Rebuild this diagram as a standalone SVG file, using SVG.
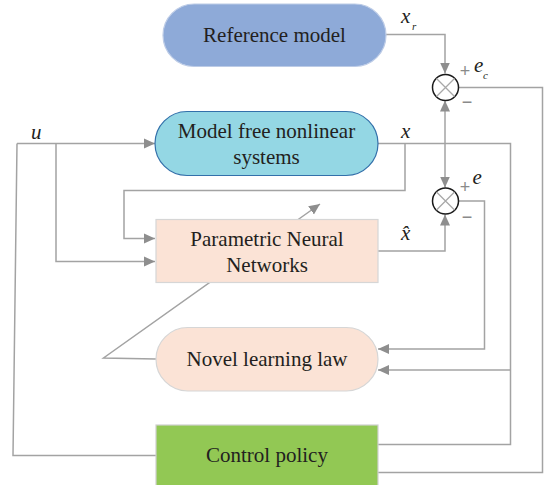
<svg xmlns="http://www.w3.org/2000/svg" width="544" height="485" viewBox="0 0 544 485">
<defs>
<marker id="ah" markerUnits="userSpaceOnUse" markerWidth="12" markerHeight="12" viewBox="0 0 12 12" refX="11" refY="6" orient="auto">
<path d="M0,1 L11,6 L0,11 Z" fill="#8e8e8e"/>
</marker>
<marker id="ahs" markerUnits="userSpaceOnUse" markerWidth="12" markerHeight="12" viewBox="0 0 12 12" refX="11" refY="6" orient="auto-start-reverse">
<path d="M0,1 L11,6 L0,11 Z" fill="#8e8e8e"/>
</marker>
</defs>
<style>
.ln{fill:none;stroke:#a3a3a3;stroke-width:1.5}
.t{font-family:"Liberation Serif","Times New Roman",serif;font-size:21px;fill:#231f20;text-anchor:middle}
.lb{font-family:"Liberation Serif","Times New Roman",serif;font-style:italic;font-size:21px;fill:#231f20}
.sub{font-family:"Liberation Serif","Times New Roman",serif;font-style:italic;font-size:11px;fill:#231f20}
.pm{font-family:"Liberation Sans",Arial,sans-serif;font-size:18px;fill:#8a8a8a;text-anchor:middle}
.sum{fill:#fff;stroke:#1a1a1a;stroke-width:1.5}
.cx{stroke:#a8a8a8;stroke-width:1.3}
</style>
<rect width="544" height="485" fill="#fff"/>
<g id="connectors">
<path class="ln" d="M17,143.5 H155" marker-end="url(#ah)"/>
<path class="ln" d="M56,143.5 V261.5 H155" marker-end="url(#ah)"/>
<path class="ln" d="M156,455.5 H13 L17,143.5"/>
<path class="ln" d="M378,143.5 H510.5 V444.5 H378"/>
<path class="ln" d="M510.5,370 H378" marker-end="url(#ah)"/>
<path class="ln" d="M405,143.5 V190.5 H124 V238.5 H155" marker-end="url(#ah)"/>
<path class="ln" d="M386,34.5 H445 V73.5" marker-end="url(#ah)"/>
<path class="ln" d="M445,100.5 V187.5" marker-start="url(#ahs)" marker-end="url(#ah)"/>
<path class="ln" d="M378,251 H445 V214.5" marker-end="url(#ah)"/>
<path class="ln" d="M459,201 H484.5 V349 H378" marker-end="url(#ah)"/>
<path class="ln" d="M458.5,87.5 H542.5 V472.5 H378"/>
<path class="ln" d="M156,359 L103.5,358 L320,204" stroke-width="1.3" marker-end="url(#ah)"/>
</g>
<g id="reference-model">
<rect x="163" y="4" width="223" height="62.5" rx="31.25" fill="#8eaad8" stroke="#bccbe6" stroke-width="1.2"/>
<text class="t" x="274.5" y="41.5">Reference model</text>
</g>
<g id="model-free-system">
<rect x="155" y="111.5" width="223" height="64" rx="32" fill="#94d7e4" stroke="#3370aa" stroke-width="1.2"/>
<text class="t" x="266.5" y="138">Model free nonlinear</text>
<text class="t" x="266.5" y="164">systems</text>
</g>
<g id="parametric-nn">
<rect x="156" y="219.5" width="222" height="63" fill="#fbe3d6" stroke="#d6d6d6" stroke-width="1.2"/>
<text class="t" x="267" y="246">Parametric Neural</text>
<text class="t" x="267" y="272">Networks</text>
</g>
<g id="novel-learning-law">
<rect x="156" y="327.5" width="222" height="63.5" rx="31.75" fill="#fbe3d6" stroke="#d6d6d6" stroke-width="1.2"/>
<text class="t" x="267" y="366">Novel learning law</text>
</g>
<g id="control-policy">
<rect x="156" y="425" width="222" height="70" fill="#92c854" stroke="#d0d0d0" stroke-width="1.2"/>
<text class="t" x="267" y="462">Control policy</text>
</g>
<g id="sum-ec">
<circle class="sum" cx="445.5" cy="87.5" r="13"/>
<path class="cx" d="M436.5,78.5 L454.5,96.5 M454.5,78.5 L436.5,96.5"/>
</g>
<g id="sum-e">
<circle class="sum" cx="445.5" cy="201" r="13"/>
<path class="cx" d="M436.5,192 L454.5,210 M454.5,192 L436.5,210"/>
</g>
<g id="labels">
<text class="lb" x="31" y="139">u</text>
<text class="lb" x="401" y="23">x</text><text class="sub" x="412" y="30">r</text>
<text class="lb" x="401" y="138">x</text>
<text class="lb" x="401" y="240">x̂</text>
<text class="pm" x="465" y="76.5">+</text>
<text class="lb" x="474" y="72">e</text><text class="sub" x="483" y="79">c</text>
<text class="pm" x="467" y="108">−</text>
<text class="pm" x="465" y="193">+</text>
<text class="lb" x="472.5" y="183.5">e</text>
<text class="pm" x="467" y="223">−</text>
</g>
</svg>
